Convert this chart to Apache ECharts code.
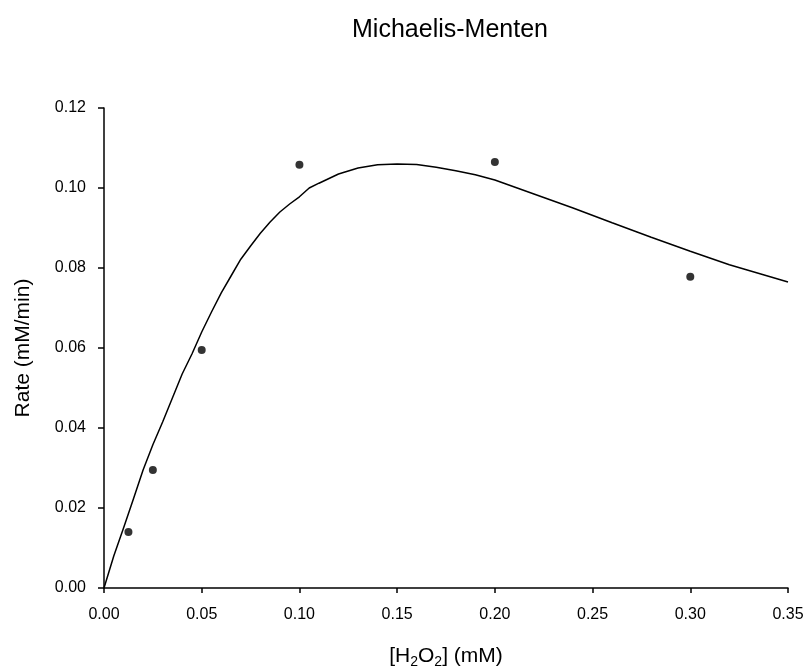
<!DOCTYPE html>
<html>
<head>
<meta charset="utf-8">
<title>Michaelis-Menten</title>
<script src="https://cdn.jsdelivr.net/npm/echarts@6/dist/echarts.min.js"></script>
<style>
  html, body { margin: 0; padding: 0; background: #ffffff; }
  #chart { width: 807px; height: 669px; }
</style>
</head>
<body>
<div id="chart"></div>
<script>
// Measured rates at each substrate concentration
const substrate = [0.0125, 0.025, 0.05, 0.10, 0.20, 0.30];
const rate = [0.0140, 0.0295, 0.0595, 0.1058, 0.1065, 0.0778];

// Fitted curve, sampled along the concentration axis
const fitX = [0, 0.005, 0.010, 0.015, 0.020, 0.025, 0.030, 0.035, 0.040, 0.045, 0.050,
              0.055, 0.060, 0.065, 0.070, 0.075, 0.080, 0.085, 0.090, 0.095, 0.100,
              0.105, 0.110, 0.120, 0.130, 0.140, 0.150, 0.160, 0.170, 0.180, 0.190,
              0.200, 0.220, 0.240, 0.260, 0.280, 0.300, 0.320, 0.350];
const fitY = [0, 0.0080, 0.0150, 0.0222, 0.0295, 0.0358, 0.0415, 0.0475, 0.0535, 0.0585, 0.0640,
              0.0690, 0.0738, 0.0780, 0.0822, 0.0855, 0.0887, 0.0915, 0.0940, 0.0960, 0.0978,
              0.1000, 0.1012, 0.1035, 0.1050, 0.1058, 0.1060, 0.1059, 0.1052, 0.1043, 0.1033,
              0.1020, 0.0985, 0.0950, 0.0913, 0.0877, 0.0842, 0.0808, 0.0765];

// Axis ranges
const xTicks = { min: 0, max: 0.35, interval: 0.05 };
const yTicks = { min: 0, max: 0.12, interval: 0.02 };

const font = 'Liberation Sans, Arial, sans-serif';

const chart = echarts.init(document.getElementById('chart'), null, { renderer: 'canvas' });

chart.setOption({
  backgroundColor: '#ffffff',
  animation: false,
  title: {
    text: 'Michaelis-Menten',
    left: 445,
    top: 13,
    textAlign: 'center',
    textStyle: { fontFamily: font, fontSize: 25, fontWeight: 'normal', color: '#000' }
  },
  grid: { left: 104, right: 19, top: 108, bottom: 81, containLabel: false, outerBoundsMode: 'none' },
  xAxis: {
    type: 'value',
    min: xTicks.min, max: xTicks.max, interval: xTicks.interval,
    name: '[H{sub|2}O{sub|2}] (mM)',
    nameLocation: 'middle',
    nameGap: 55,
    nameTextStyle: {
      fontFamily: font, fontSize: 21, color: '#000',
      rich: { sub: { fontFamily: font, fontSize: 14, color: '#000', verticalAlign: 'bottom', padding: [12, 0, 0, 0] } }
    },
    axisLine: { show: true, onZero: false, lineStyle: { color: '#000', width: 1.5 } },
    axisTick: { show: true, inside: false, length: 5, lineStyle: { color: '#000', width: 1.5 } },
    axisLabel: { margin: 19, fontFamily: font, fontSize: 16, color: '#000',
                 formatter: v => v.toFixed(2) },
    splitLine: { show: false }
  },
  yAxis: {
    type: 'value',
    min: yTicks.min, max: yTicks.max, interval: yTicks.interval,
    name: 'Rate (mM/min)',
    nameLocation: 'middle',
    nameGap: 70,
    nameRotate: 90,
    nameTextStyle: { fontFamily: font, fontSize: 21, color: '#000' },
    axisLine: { show: true, onZero: false, lineStyle: { color: '#000', width: 1.5 } },
    axisTick: { show: true, inside: false, length: 6, lineStyle: { color: '#000', width: 1.5 } },
    axisLabel: { margin: 18, fontFamily: font, fontSize: 16, color: '#000',
                 formatter: v => v.toFixed(2) },
    splitLine: { show: false }
  },
  series: [
    {
      type: 'line',
      data: fitX.map((x, i) => [x, fitY[i]]),
      smooth: false,
      showSymbol: false,
      lineStyle: { color: '#000', width: 1.5 },
      z: 2
    },
    {
      type: 'scatter',
      data: substrate.map((x, i) => [x, rate[i]]),
      symbol: 'circle',
      symbolSize: 8,
      itemStyle: { color: '#000' },
      z: 3
    }
  ]
});
</script>
</body>
</html>
